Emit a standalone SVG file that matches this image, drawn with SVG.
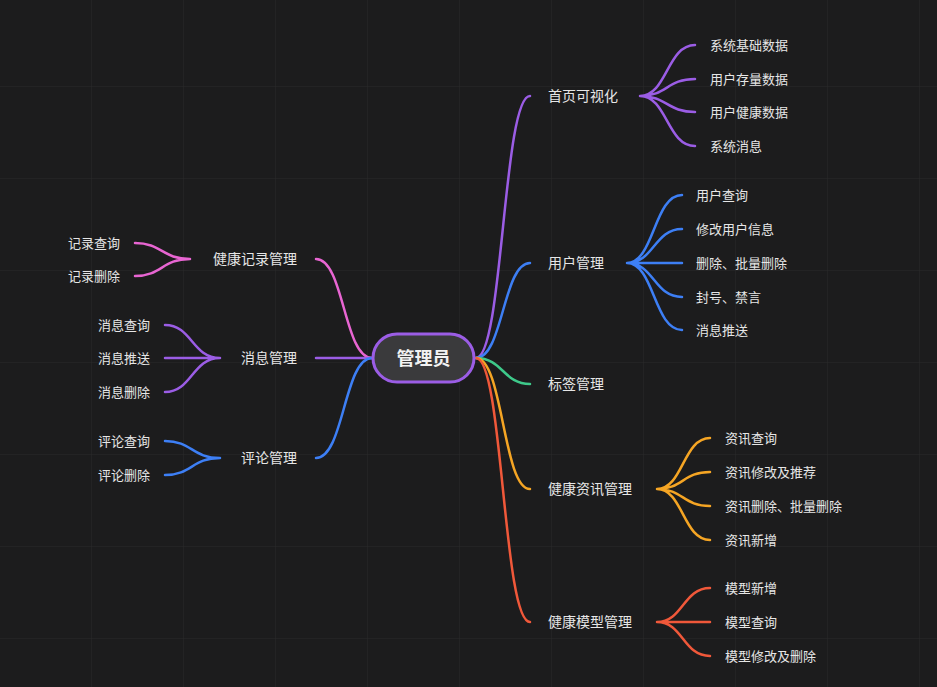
<svg xmlns="http://www.w3.org/2000/svg" width="937" height="687" viewBox="0 0 937 687">
<defs>
<pattern id="grid" width="92" height="92" patternUnits="userSpaceOnUse" x="-0" y="-5"><path d="M92 0V92M0 92H92" fill="none" stroke="#2a2a2a" stroke-width="1"/></pattern>
</defs>
<style>
.c{fill:none;stroke-width:2.5;stroke-linecap:round}
.p{stroke:#9b5de5}.b{stroke:#3d7ff5}.g{stroke:#3ec98a}.o{stroke:#f5a524}.r{stroke:#f0583a}.k{stroke:#e865d2}
text{font-family:"Noto Sans CJK SC","Noto Sans",sans-serif;fill:#e6e6e6}
.t{font-size:14px}.l{font-size:13px}.e{text-anchor:end}
</style>
<rect width="937" height="687" fill="#1c1c1d"/>
<rect x="0" y="0" width="937" height="687" fill="url(#grid)"/>
<g id="connectors">
<path class="c p" d="M476 358C503 358 503 96 530 96"/>
<path class="c b" d="M476 358C503 358 503 263 530 263"/>
<path class="c g" d="M476 358C503 358 503 384 530 384"/>
<path class="c o" d="M476 358C503 358 503 489 530 489"/>
<path class="c r" d="M476 358C503 358 503 622 530 622"/>
<path class="c k" d="M372 358C344 358 344 259 316 259"/>
<path class="c p" d="M372 358H316"/>
<path class="c b" d="M372 358C344 358 344 458 316 458"/>
<path class="c p" d="M640 96C667 96 667 45 695 45M640 96C667 96 667 79 695 79M640 96C667 96 667 112 695 112M640 96C667 96 667 146 695 146"/>
<path class="c b" d="M627 263C654 263 654 195 682 195M627 263C654 263 654 229 682 229M627 263H682M627 263C654 263 654 297 682 297M627 263C654 263 654 330 682 330"/>
<path class="c o" d="M657 489C683 489 683 438 710 438M657 489C683 489 683 472 710 472M657 489C683 489 683 506 710 506M657 489C683 489 683 540 710 540"/>
<path class="c r" d="M657 622C683 622 683 588 710 588M657 622H710M657 622C683 622 683 656 710 656"/>
<path class="c k" d="M190 259C162 259 162 243 135 243M190 259C162 259 162 276 135 276"/>
<path class="c p" d="M220 358C192 358 192 325 165 325M220 358H165M220 358C192 358 192 392 165 392"/>
<path class="c b" d="M220 458C192 458 192 441 165 441M220 458C192 458 192 475 165 475"/>
</g>
<g id="root"><rect x="373" y="334" width="101" height="48" rx="24" fill="#3a3a3c" stroke="#9b5de5" stroke-width="3"/><text x="423.5" y="364.5" text-anchor="middle" style="font-size:18px;font-weight:bold;fill:#f2f2f2">管理员</text></g>
<g id="n1"><text class="t" x="548" y="101">首页可视化</text></g>
<g id="n1l"><text class="l" x="710" y="50">系统基础数据</text><text class="l" x="710" y="84">用户存量数据</text><text class="l" x="710" y="117">用户健康数据</text><text class="l" x="710" y="151">系统消息</text></g>
<g id="n2"><text class="t" x="548" y="268">用户管理</text></g>
<g id="n2l"><text class="l" x="696" y="200">用户查询</text><text class="l" x="696" y="234">修改用户信息</text><text class="l" x="696" y="268">删除、批量删除</text><text class="l" x="696" y="302">封号、禁言</text><text class="l" x="696" y="335">消息推送</text></g>
<g id="n3"><text class="t" x="548" y="389">标签管理</text></g>
<g id="n4"><text class="t" x="548" y="494">健康资讯管理</text></g>
<g id="n4l"><text class="l" x="725" y="443">资讯查询</text><text class="l" x="725" y="477">资讯修改及推荐</text><text class="l" x="725" y="511">资讯删除、批量删除</text><text class="l" x="725" y="545">资讯新增</text></g>
<g id="n5"><text class="t" x="548" y="627">健康模型管理</text></g>
<g id="n5l"><text class="l" x="725" y="593">模型新增</text><text class="l" x="725" y="627">模型查询</text><text class="l" x="725" y="661">模型修改及删除</text></g>
<g id="n6"><text class="t e" x="297" y="264">健康记录管理</text></g>
<g id="n6l"><text class="l e" x="120" y="248">记录查询</text><text class="l e" x="120" y="281">记录删除</text></g>
<g id="n7"><text class="t e" x="297" y="363">消息管理</text></g>
<g id="n7l"><text class="l e" x="150" y="330">消息查询</text><text class="l e" x="150" y="363">消息推送</text><text class="l e" x="150" y="397">消息删除</text></g>
<g id="n8"><text class="t e" x="297" y="463">评论管理</text></g>
<g id="n8l"><text class="l e" x="150" y="446">评论查询</text><text class="l e" x="150" y="480">评论删除</text></g>
</svg>
